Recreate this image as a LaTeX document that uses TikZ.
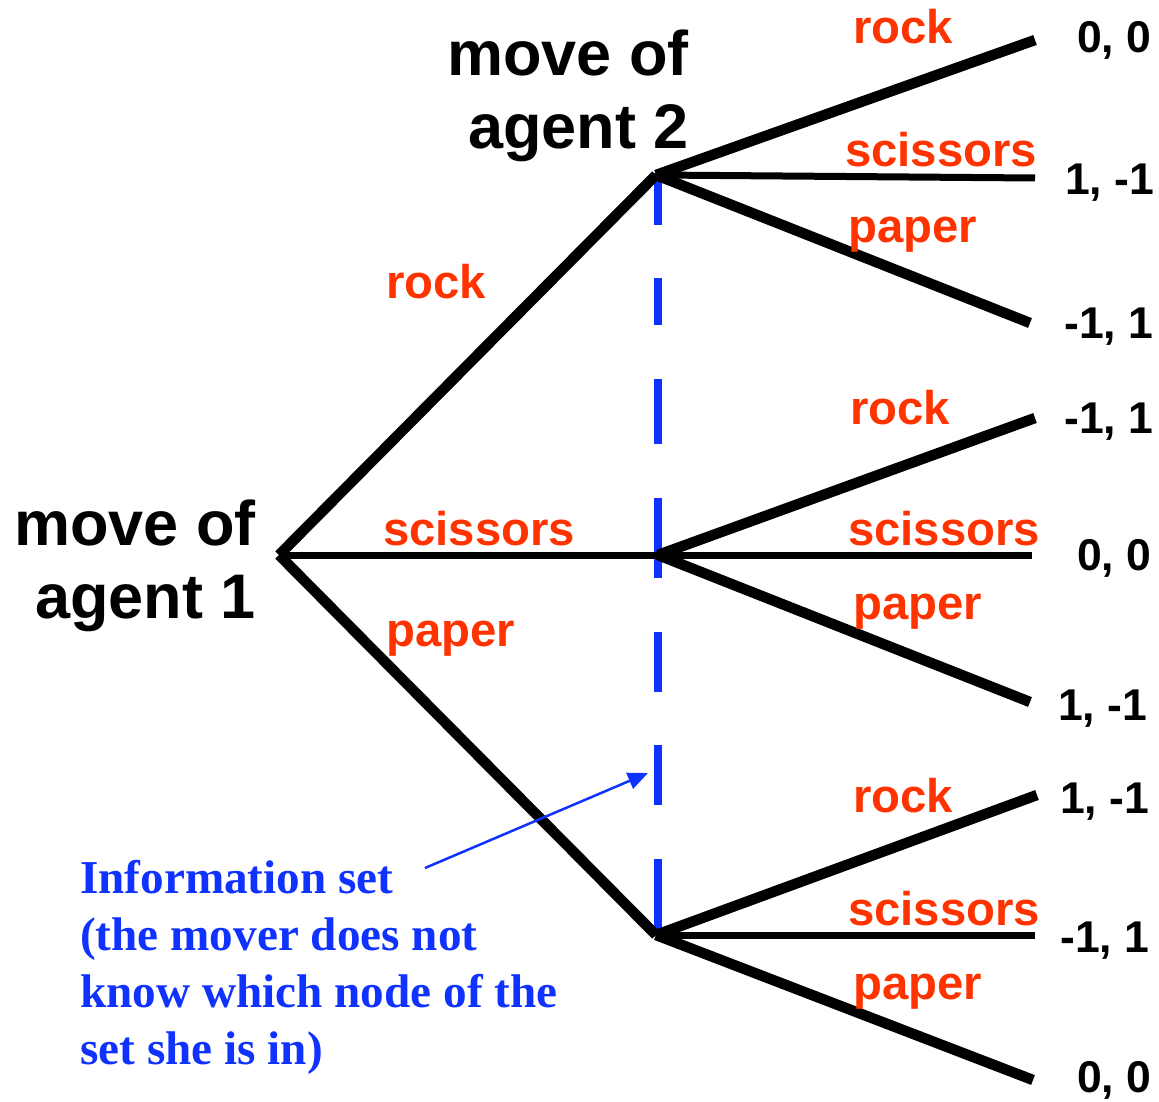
\documentclass[tikz,border=0pt]{standalone}
\usepackage{fontspec}
\setmainfont{Liberation Sans}
\newfontfamily\tms{Liberation Serif}
\usetikzlibrary{arrows.meta}
\definecolor{lblred}{RGB}{255,51,0}
\definecolor{infblue}{RGB}{16,50,255}
\begin{document}
\begin{tikzpicture}[x=1pt,y=-1pt,
  branch/.style={draw=black,line width=10.5pt,line cap=butt},
  sbranch/.style={draw=black,line width=7pt,line cap=butt},
  move/.style={font=\fontsize{63}{73}\selectfont\bfseries,align=right,inner sep=0pt},
  act/.style={font=\fontsize{47.3}{50}\selectfont\bfseries,text=lblred,inner sep=0pt,anchor=base west},
  pay/.style={font=\fontsize{44.5}{48}\selectfont\bfseries,text=black,inner sep=0pt,anchor=base west},
  infoset/.style={draw=infblue,line width=8pt},
  info/.style={font=\fontsize{47.2}{57}\selectfont\tms\bfseries,text=infblue,align=left,inner sep=0pt,anchor=north west}]
\useasboundingbox (0,0) rectangle (1159,1102);
% decision nodes
\coordinate (r) at (279,555);
\coordinate (a) at (656,175);
\coordinate (b) at (658,555);
\coordinate (c) at (656,935);
% leaves
\coordinate (a1) at (1035,40);
\coordinate (a2) at (1035,178);
\coordinate (a3) at (1030,323);
\coordinate (b1) at (1035,418);
\coordinate (b2) at (1032,555);
\coordinate (b3) at (1030,702);
\coordinate (c1) at (1037,795);
\coordinate (c2) at (1035,935);
\coordinate (c3) at (1033,1080);
% information set dashes
\draw[infoset] (658,173) -- (658,225) (658,278) -- (658,325) (658,379) -- (658,444)
  (658,498) -- (658,578) (658,632) -- (658,692) (658,745) -- (658,805) (658,859) -- (658,936);
% branches
\draw[branch] (r) -- (a);
\draw[sbranch] (r) -- (b);
\draw[branch] (r) -- (c);
\draw[branch] (a) -- (a1);
\draw[sbranch] (a) -- (a2);
\draw[branch] (a) -- (a3);
\draw[branch] (b) -- (b1);
\draw[sbranch] (b) -- (b2);
\draw[branch] (b) -- (b3);
\draw[branch] (c) -- (c1);
\draw[sbranch] (c) -- (c2);
\draw[branch] (c) -- (c3);
% mover labels
\node[move,anchor=north east] (m2) at (689,30) {move of\\agent 2};
\node[move,anchor=north east] (m1) at (256,500) {move of\\agent 1};
% action labels
\node[act] (lr) at (386,298) {rock};
\node[act] (ls) at (383,545) {scissors};
\node[act] (lp) at (386,646) {paper};
\node[act] (ar) at (853,44) {rock};
\node[act] (as) at (845,167) {scissors};
\node[act] (ap) at (848,242) {paper};
\node[act] (br) at (850,424) {rock};
\node[act] (bs) at (848,545) {scissors};
\node[act] (bp) at (853,619) {paper};
\node[act] (cr) at (853,812) {rock};
\node[act] (cs) at (848,925) {scissors};
\node[act] (cp) at (853,999) {paper};
% payoffs
\node[pay] (p1) at (1077,53) {0, 0};
\node[pay] (p2) at (1065,195) {1, -1};
\node[pay] (p3) at (1064,338) {-1, 1};
\node[pay] (p4) at (1064,433) {-1, 1};
\node[pay] (p5) at (1077,570) {0, 0};
\node[pay] (p6) at (1058,720) {1, -1};
\node[pay] (p7) at (1060,813) {1, -1};
\node[pay] (p8) at (1060,952) {-1, 1};
\node[pay] (p9) at (1077,1092) {0, 0};
% information set note
\node[info] (inf) at (80,860) {Information set\\(the mover does not\\know which node of the\\set she is in)};
\coordinate (tip) at (648,773);
\coordinate (tail) at (425,868);
\draw[infblue,line width=2.5pt,-{Triangle[length=20pt,width=17pt]}] (tail) -- (tip);
\end{tikzpicture}
\end{document}
